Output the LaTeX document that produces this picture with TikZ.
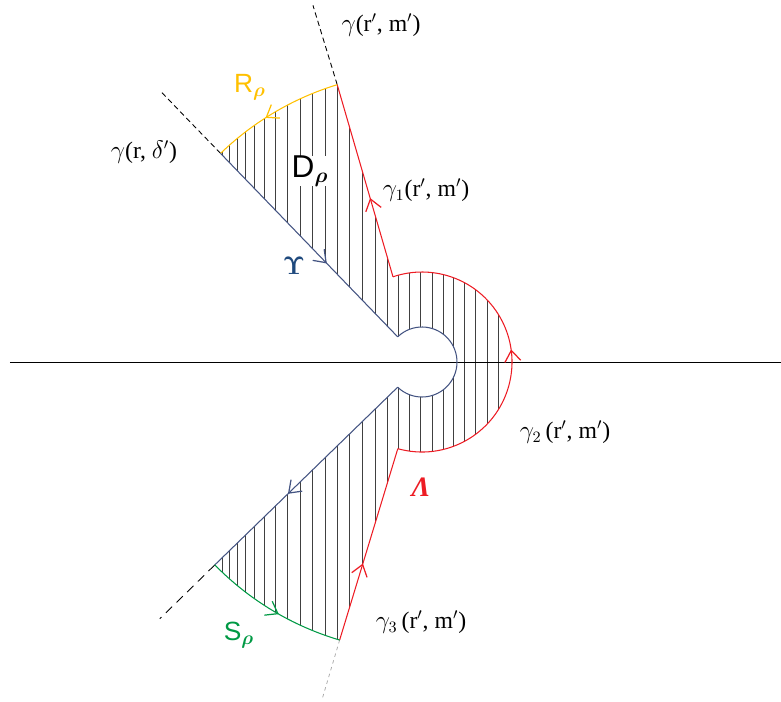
\documentclass[tikz,border=0pt]{standalone}
\usepackage{fontspec}
\usepackage{amsmath,amssymb,bm}
\setmainfont{Liberation Serif}
\setsansfont{Liberation Sans}
\usetikzlibrary{arrows.meta,decorations.markings}

\definecolor{contourred}{RGB}{237,28,36}
\definecolor{contourblue}{RGB}{68,84,130}
\definecolor{arcyellow}{RGB}{255,192,0}
\definecolor{arcgreen}{RGB}{0,153,68}
\definecolor{upsblue}{RGB}{31,73,125}

\begin{document}
\begin{tikzpicture}[x=0.02cm, y=0.02cm,
    hatch/.style={black!75, line width=0.45pt},
    edge/.style={line width=0.6pt},
    ray/.style={line width=0.5pt, dash pattern=on 3pt off 2pt},
    midarrow/.style={postaction={decorate}, decoration={markings,
        mark=at position #1 with {\arrow[line width=0.7pt]{Straight Barb[length=2.2mm,width=3.2mm]}}}},
    lbl/.style={font=\fontsize{13.5}{15}\selectfont, inner sep=1pt},
    sflbl/.style={font=\sffamily\fontsize{15}{17}\selectfont, inner sep=1pt}]
    \useasboundingbox (-422,-339) rectangle (359,362);
    % corners of the contour
    \coordinate (A) at (134:290);
    \coordinate (B) at (107:290);
    \coordinate (C) at (108.8:90);
    \coordinate (D) at (-105.6:90);
    \coordinate (E) at (253.5:290);
    \coordinate (F) at (224.4:290);
    \coordinate (G) at (226:35);
    \coordinate (H) at (134:35);
    % hatching of the region
    \begin{scope}
        \clip (A) arc[start angle=134, end angle=107, radius=290] -- (C)
            arc[start angle=108.8, end angle=-105.6, radius=90] -- (E)
            arc[start angle=253.5, end angle=224.4, radius=290] -- (G)
            arc[start angle=-134, end angle=134, radius=35] -- cycle;
        \foreach \x in {-200,-193,-185,-177,-168,-158,-147,-135,-122,-110,-97,-85,-73,-60,-47,-35,-24,-13,-2,10,21,31,42,53,65,76}
            \draw[hatch] (\x,-330) -- (\x,330);
    \end{scope}
    \node[fill=white, inner sep=0pt, font=\sffamily\fontsize{18}{20}\selectfont] (Drho) at (-112,191) {D$_{\bm\rho}$};
    % dashed rays
    \coordinate (Aout) at (134:376);
    \coordinate (Bout) at (107:373);
    \coordinate (Fout) at (224.4:367);
    \coordinate (Eout) at (253.5:352);
    \draw[ray] (A) -- (Aout);
    \draw[ray] (B) -- (Bout);
    \draw[line width=0.5pt, dash pattern=on 5pt off 3.5pt] (F) -- (Fout);
    \draw[line width=0.4pt, gray!70, dash pattern=on 2pt off 2pt] (E) -- (Eout);
    % axis
    \coordinate (axl) at (-412,0);
    \coordinate (axr) at (359,0);
    \draw[line width=0.5pt] (axl) -- (axr);
    % contour
    \draw[edge, contourred, midarrow=0.4] (E) -- (D);
    \draw[edge, contourred, midarrow=0.53] (D) arc[start angle=-105.6, end angle=108.8, radius=90];
    \draw[edge, contourred, midarrow=0.41] (C) -- (B);
    \draw[edge, arcyellow, midarrow=0.58] (B) arc[start angle=107, end angle=134, radius=290];
    \draw[edge, contourblue, midarrow=0.6] (A) -- (H);
    \draw[edge, contourblue] (H) arc[start angle=134, end angle=-134, radius=35];
    \draw[edge, contourblue, midarrow=0.6] (G) -- (F);
    \draw[edge, arcgreen, midarrow=0.55] (F) arc[start angle=224.4, end angle=253.5, radius=290];
    % labels
    \node[lbl] (gtop) at (-41,337) {$\gamma$(r$'$, m$'$)};
    \node[lbl] (gleft) at (-278,210) {$\gamma$(r, $\delta'$)};
    \node[lbl] (gone) at (4,172) {$\gamma_1$(r$'$, m$'$)};
    \node[lbl] (gtwo) at (143,-70) {$\gamma_2$\,(r$'$, m$'$)};
    \node[lbl] (gthree) at (-1,-260) {$\gamma_3$\,(r$'$, m$'$)};
    \node[sflbl, text=arcyellow] (Rrho) at (-172,275) {R$_{\bm\rho}$};
    \node[sflbl, text=arcgreen] (Srho) at (-183,-273) {S$_{\bm\rho}$};
    \node[text=upsblue, font=\fontsize{15}{17}\selectfont] (ups) at (-128,96) {$\bm\Upsilon$};
    \node[text=contourred, font=\bfseries\itshape\fontsize{16}{18}\selectfont] (lam) at (-1,-125) {Λ};
\end{tikzpicture}
\end{document}
